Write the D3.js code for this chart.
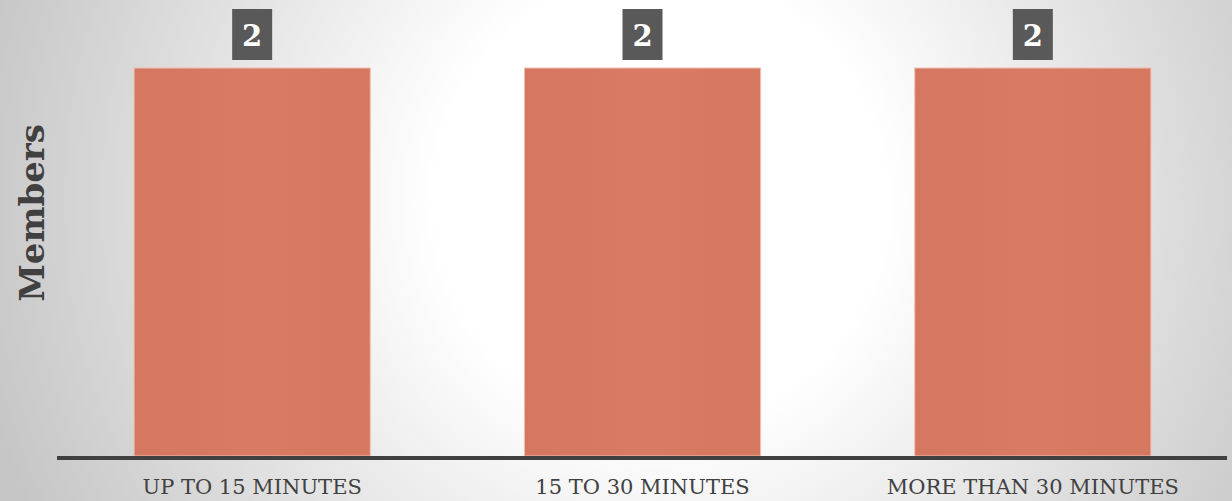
<!DOCTYPE html>
<html lang="en">
<head>
<meta charset="UTF-8">
<title>Members by time</title>
<style>
  html, body { margin: 0; padding: 0; }
  body { width: 1232px; height: 501px; overflow: hidden; }
  svg { display: block; }
</style>
</head>
<body>
<div id="chart"></div>
<script src="https://cdn.jsdelivr.net/npm/d3@7"></script>
<script>
const categories = ["UP TO 15 MINUTES", "15 TO 30 MINUTES", "MORE THAN 30 MINUTES"];
const members = [2, 2, 2];
const axisTitle = "Members";

const width = 1232, height = 501;
const plot = { left: 57, right: 1227, top: 68, bottom: 456 };
const serif = "Georgia, 'DejaVu Serif', serif";

const svg = d3.select("#chart").append("svg")
    .attr("width", width)
    .attr("height", height);

const defs = svg.append("defs");
const bg = defs.append("radialGradient")
    .attr("id", "bg")
    .attr("gradientUnits", "userSpaceOnUse")
    .attr("cx", 660).attr("cy", 200).attr("r", 700);
bg.append("stop").attr("offset", "0%").attr("stop-color", "#ffffff");
bg.append("stop").attr("offset", "32%").attr("stop-color", "#ffffff");
bg.append("stop").attr("offset", "100%").attr("stop-color", "#c6c6c6");

const barGrad = defs.append("linearGradient")
    .attr("id", "bar")
    .attr("x1", "0").attr("x2", "1").attr("y1", "0").attr("y2", "0");
barGrad.append("stop").attr("offset", "0%").attr("stop-color", "#d57760");
barGrad.append("stop").attr("offset", "50%").attr("stop-color", "#d97a64");
barGrad.append("stop").attr("offset", "100%").attr("stop-color", "#d6775f");

svg.append("rect")
    .attr("width", width).attr("height", height)
    .attr("fill", "url(#bg)");

const x = d3.scaleBand()
    .domain(categories)
    .range([plot.left, plot.right + 1])
    .paddingInner(154 / 390)
    .paddingOuter(77 / 390);

const y = d3.scaleLinear()
    .domain([0, 2])
    .range([plot.bottom, plot.top]);

const data = categories.map((c, i) => ({ cat: c, value: members[i] }));

svg.append("g").selectAll("rect")
    .data(data)
    .enter().append("rect")
    .attr("x", d => x(d.cat))
    .attr("width", x.bandwidth())
    .attr("y", d => y(d.value))
    .attr("height", d => y(0) - y(d.value))
    .attr("fill", "url(#bar)")
    .attr("stroke", "#f0c0b0")
    .attr("stroke-width", 1);

// axis line
svg.append("line")
    .attr("x1", plot.left).attr("x2", plot.right)
    .attr("y1", 458).attr("y2", 458)
    .attr("stroke", "#404040")
    .attr("stroke-width", 4);

const cx = d => x(d.cat) + x.bandwidth() / 2;

// category labels
svg.append("g").selectAll("text")
    .data(data)
    .enter().append("text")
    .attr("x", cx)
    .attr("y", 494)
    .attr("text-anchor", "middle")
    .attr("font-family", serif)
    .attr("font-size", 21)
    .attr("fill", "#404040")
    .text(d => d.cat);

// value labels in dark boxes
const lbl = svg.append("g").selectAll("g")
    .data(data)
    .enter().append("g");
lbl.append("rect")
    .attr("x", d => cx(d) - 20)
    .attr("y", d => y(d.value) - 59)
    .attr("width", 40)
    .attr("height", 51)
    .attr("fill", "#595959");
lbl.append("text")
    .attr("x", cx)
    .attr("y", d => y(d.value) - 22)
    .attr("text-anchor", "middle")
    .attr("font-family", serif)
    .attr("font-weight", "bold")
    .attr("font-size", 29)
    .attr("fill", "#ffffff")
    .text(d => d.value);

// y axis title
svg.append("text")
    .attr("transform", "translate(44,213) rotate(-90)")
    .attr("text-anchor", "middle")
    .attr("font-family", serif)
    .attr("font-weight", "bold")
    .attr("font-size", 34)
    .attr("fill", "#404040")
    .text(axisTitle);
</script>
</body>
</html>
